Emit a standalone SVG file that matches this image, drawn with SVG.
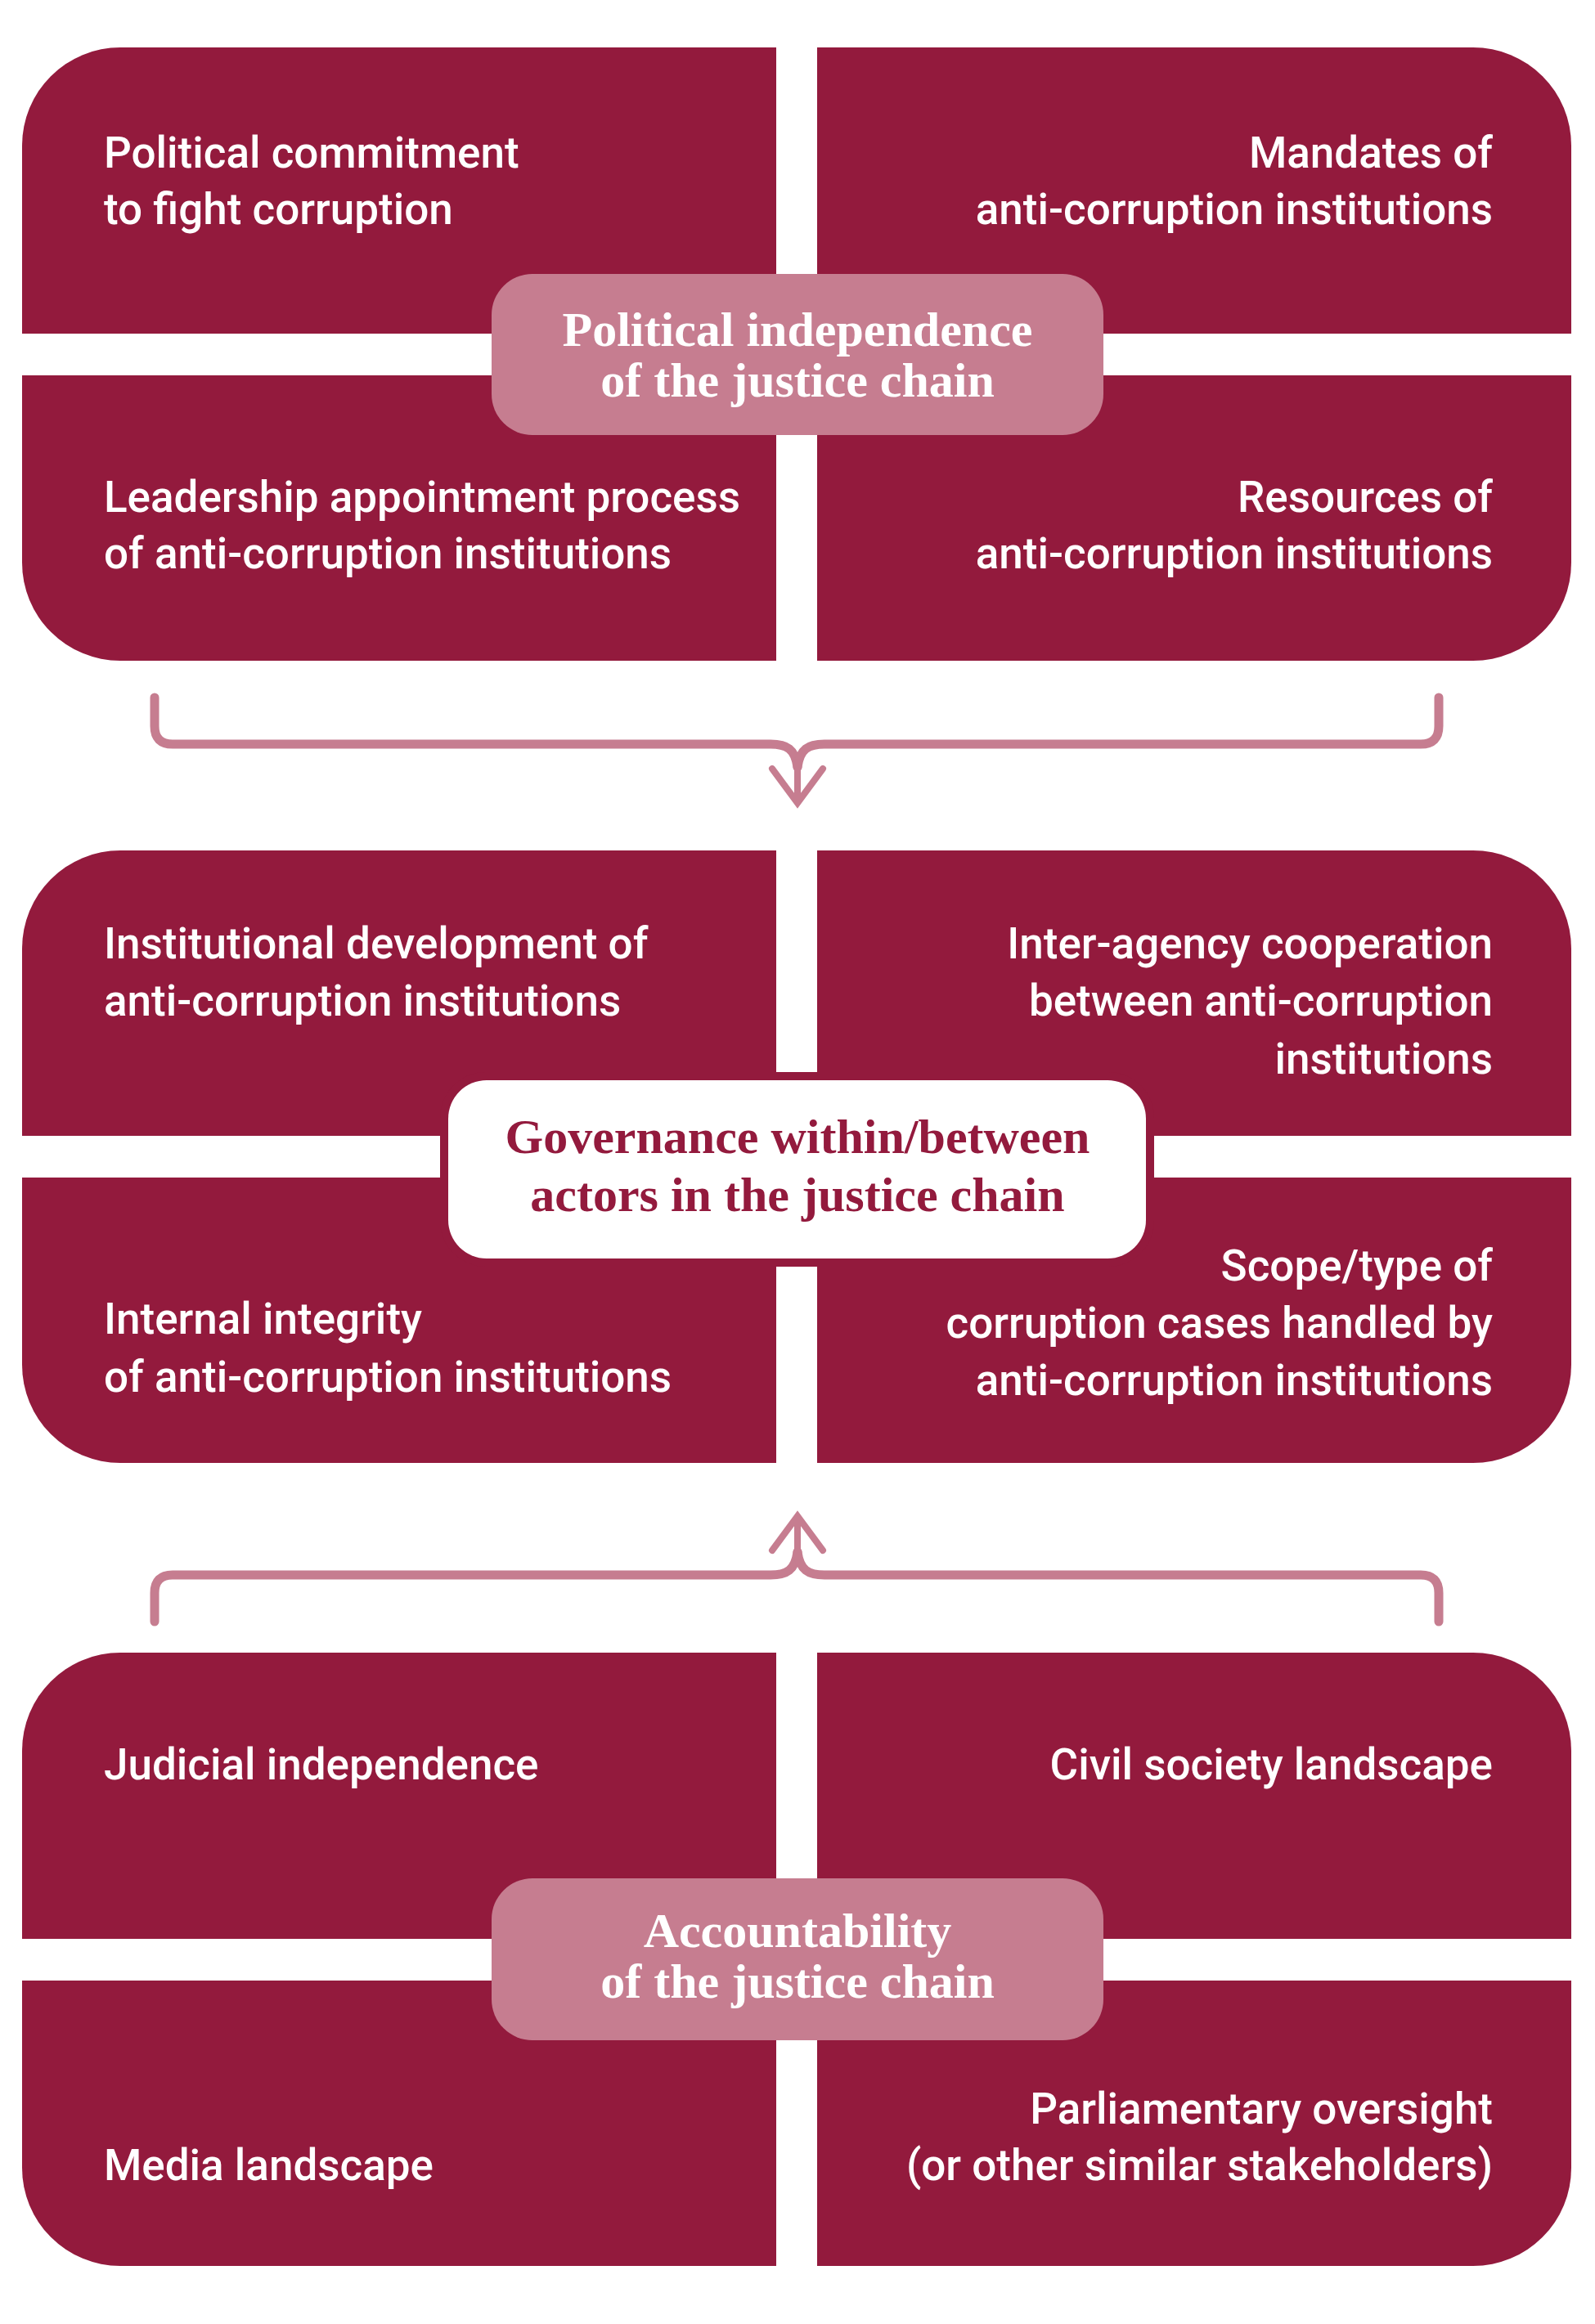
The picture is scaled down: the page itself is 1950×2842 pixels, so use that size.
<svg xmlns="http://www.w3.org/2000/svg" width="1950" height="2842" viewBox="0 0 1950 2842">
<style>
.panel{fill:#931A3D}
.pinkbox{fill:#C67D90}
.t{font-family:Roboto,"Liberation Sans",Arial,sans-serif;font-size:53px;font-weight:500;fill:#FFFFFF}
.r{text-anchor:end}
.title{font-family:"Liberation Serif","Times New Roman",serif;font-size:60px;font-weight:bold;text-anchor:middle}
.tw{fill:#FFFFFF}
.tm{fill:#931A3D}
.conn{fill:none;stroke:#C67D90;stroke-width:11;stroke-linecap:round;stroke-linejoin:round}
.arm{fill:none;stroke:#C67D90;stroke-width:8;stroke-linecap:round;stroke-linejoin:miter}
</style>
<rect width="1950" height="2842" fill="#FFFFFF"/>

<!-- Section 1 -->
<g id="political-commitment">
<path class="panel" d="M27 178 A120 120 0 0 1 147 58 L949 58 L949 408 L27 408 Z"/>
<text class="t" x="127" y="205">Political commitment</text>
<text class="t" x="127" y="274">to fight corruption</text>
</g>
<g id="mandates">
<path class="panel" d="M999 58 L1801 58 A120 120 0 0 1 1921 178 L1921 408 L999 408 Z"/>
<text class="t r" x="1825" y="205">Mandates of</text>
<text class="t r" x="1825" y="274">anti-corruption institutions</text>
</g>
<g id="leadership-appointment">
<path class="panel" d="M27 459 L949 459 L949 808 L147 808 A120 120 0 0 1 27 688 Z"/>
<text class="t" x="127" y="626">Leadership appointment process</text>
<text class="t" x="127" y="695">of anti-corruption institutions</text>
</g>
<g id="resources">
<path class="panel" d="M999 459 L1921 459 L1921 688 A120 120 0 0 1 1801 808 L999 808 Z"/>
<text class="t r" x="1825" y="626">Resources of</text>
<text class="t r" x="1825" y="695">anti-corruption institutions</text>
</g>
<g id="political-independence">
<rect class="pinkbox" x="601" y="335" width="748" height="197" rx="50" ry="50"/>
<text class="title tw" x="975" y="423">Political independence</text>
<text class="title tw" x="975" y="485">of the justice chain</text>
</g>

<!-- Section 2 -->
<g id="institutional-development">
<path class="panel" d="M27 1160 A120 120 0 0 1 147 1040 L949 1040 L949 1389 L27 1389 Z"/>
<text class="t" x="127" y="1172">Institutional development of</text>
<text class="t" x="127" y="1242">anti-corruption institutions</text>
</g>
<g id="inter-agency-cooperation">
<path class="panel" d="M999 1040 L1801 1040 A120 120 0 0 1 1921 1160 L1921 1389 L999 1389 Z"/>
<text class="t r" x="1825" y="1172">Inter-agency cooperation</text>
<text class="t r" x="1825" y="1242">between anti-corruption</text>
<text class="t r" x="1825" y="1313">institutions</text>
</g>
<g id="internal-integrity">
<path class="panel" d="M27 1440 L949 1440 L949 1789 L147 1789 A120 120 0 0 1 27 1669 Z"/>
<text class="t" x="127" y="1631">Internal integrity</text>
<text class="t" x="127" y="1702">of anti-corruption institutions</text>
</g>
<g id="scope-type">
<path class="panel" d="M999 1440 L1921 1440 L1921 1669 A120 120 0 0 1 1801 1789 L999 1789 Z"/>
<text class="t r" x="1825" y="1566">Scope/type of</text>
<text class="t r" x="1825" y="1636">corruption cases handled by</text>
<text class="t r" x="1825" y="1706">anti-corruption institutions</text>
</g>
<g id="governance">
<rect class="panel" x="538" y="1311" width="873" height="238" rx="56" ry="56"/>
<rect x="548" y="1321" width="853" height="218" rx="47" ry="47" fill="#FFFFFF"/>
<text class="title tm" x="975" y="1410">Governance within/between</text>
<text class="title tm" x="975" y="1481">actors in the justice chain</text>
</g>

<!-- Section 3 -->
<g id="judicial-independence">
<path class="panel" d="M27 2141 A120 120 0 0 1 147 2021 L949 2021 L949 2371 L27 2371 Z"/>
<text class="t" x="127" y="2176">Judicial independence</text>
</g>
<g id="civil-society">
<path class="panel" d="M999 2021 L1801 2021 A120 120 0 0 1 1921 2141 L1921 2371 L999 2371 Z"/>
<text class="t r" x="1825" y="2176">Civil society landscape</text>
</g>
<g id="media-landscape">
<path class="panel" d="M27 2422 L949 2422 L949 2771 L147 2771 A120 120 0 0 1 27 2651 Z"/>
<text class="t" x="127" y="2666">Media landscape</text>
</g>
<g id="parliamentary-oversight">
<path class="panel" d="M999 2422 L1921 2422 L1921 2651 A120 120 0 0 1 1801 2771 L999 2771 Z"/>
<text class="t r" x="1825" y="2597">Parliamentary oversight</text>
<text class="t r" x="1825" y="2666">(or other similar stakeholders)</text>
</g>
<g id="accountability">
<rect class="pinkbox" x="601" y="2297" width="748" height="198" rx="50" ry="50"/>
<text class="title tw" x="975" y="2381">Accountability</text>
<text class="title tw" x="975" y="2443">of the justice chain</text>
</g>

<!-- Connectors -->
<g id="connectors">
<!-- top bracket, pointing down -->
<path class="conn" d="M189 853 L189 888 Q189 910 211 910 L942 910 C962 910 972 916 975 938"/>
<path class="conn" d="M1759 853 L1759 888 Q1759 910 1737 910 L1008 910 C988 910 978 916 975 938"/>
<path class="arm" d="M975 932 L975 978"/>
<path class="arm" d="M944 940 L975 982 L1006 940"/>
<!-- bottom bracket, pointing up -->
<path class="conn" d="M189 1983 L189 1948 Q189 1926 211 1926 L942 1926 C962 1926 972 1920 975 1898"/>
<path class="conn" d="M1759 1983 L1759 1948 Q1759 1926 1737 1926 L1008 1926 C988 1926 978 1920 975 1898"/>
<path class="arm" d="M975 1904 L975 1858"/>
<path class="arm" d="M944 1896 L975 1854 L1006 1896"/>
</g>
</svg>
